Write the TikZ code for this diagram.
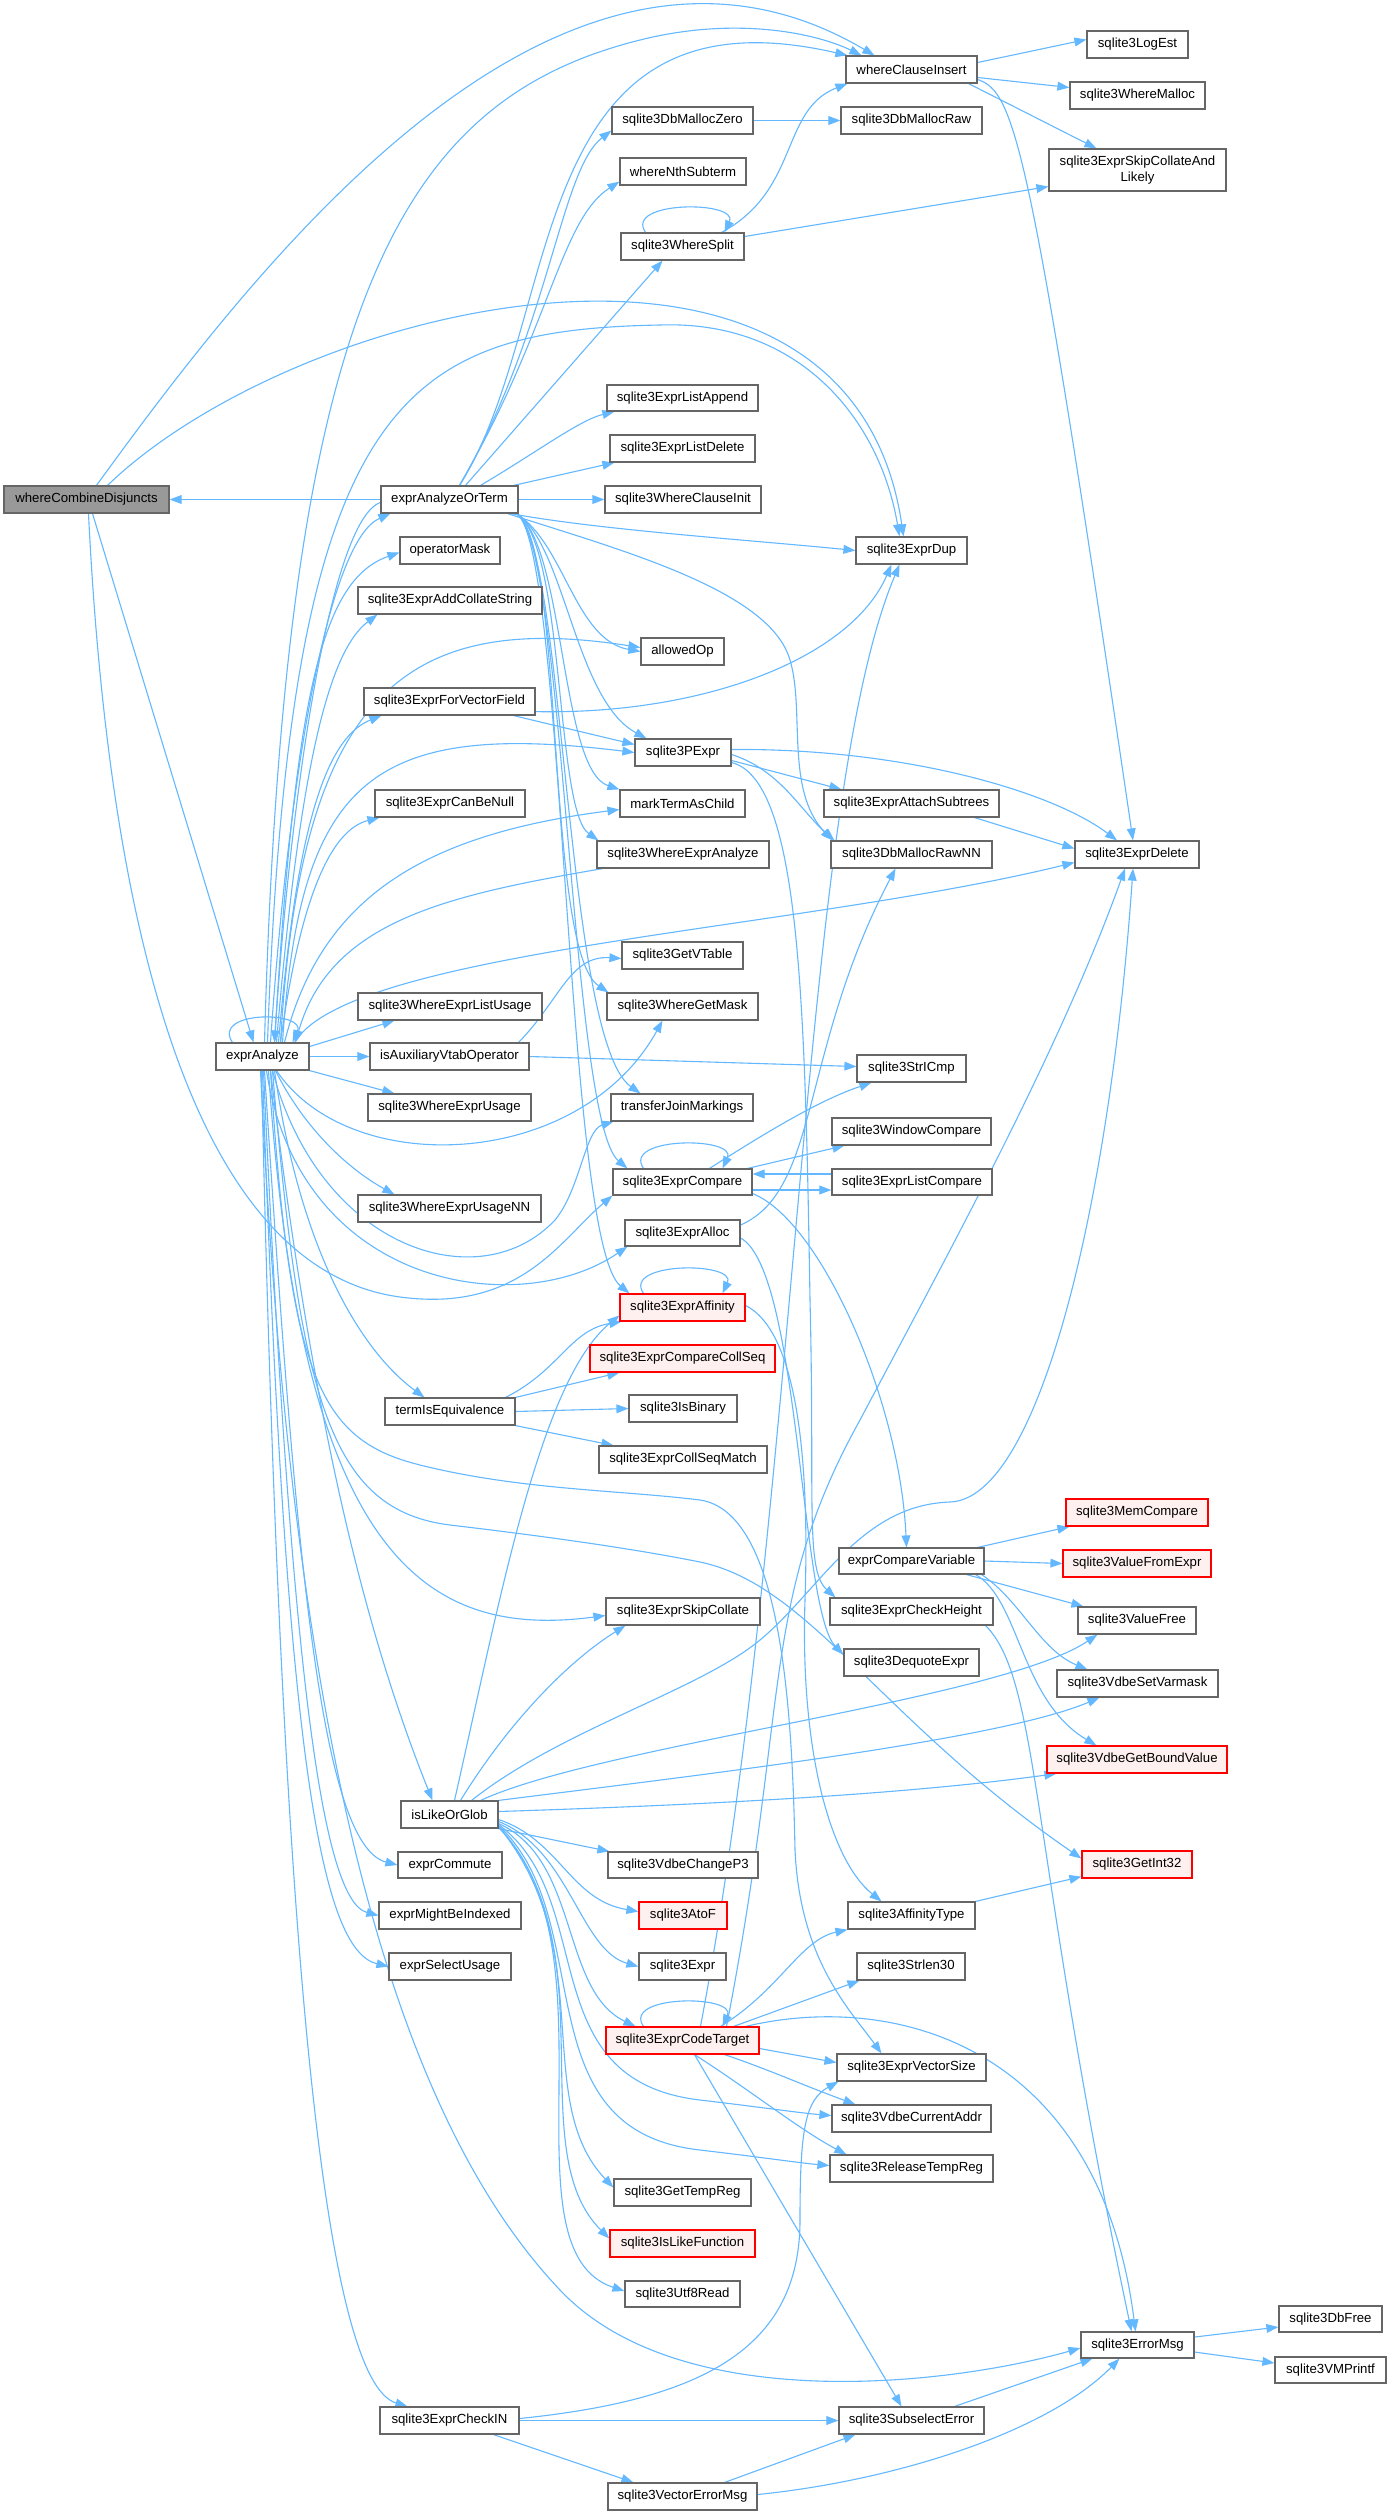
\documentclass[tikz,border=0pt]{standalone}
\usepackage{fontspec}
\setmainfont{Liberation Sans}
\usetikzlibrary{arrows.meta,calc}
\definecolor{edgec}{HTML}{63B8FF}
\definecolor{bord}{HTML}{666666}
\definecolor{focf}{HTML}{999999}
\definecolor{redf}{HTML}{FFF0F0}
\tikzset{
 bxn/.style={draw=bord, fill=white, line width=0.6pt, inner sep=0pt, font=\fontsize{6.6pt}{8pt}\selectfont, align=center},
 bxr/.style={bxn, draw=red, fill=redf},
 bxf/.style={bxn, fill=focf},
 edg/.style={draw=edgec, line width=0.55pt, -{Triangle[length=6pt,width=4.4pt]}},
}
\newcommand{\bx}[7]{\node[#1,minimum width={(#5-#3)*0.5pt},minimum height={(#6-#4)*0.5pt}] (#2) at ({(#3+#5)/2},{(#4+#6)/2}) {#7};}
\newcommand{\sloop}[3]{\draw[edg] ($(#1.north)+(#2,0)$) .. controls ($(#1.north)+(#2-22,-32)$) and ($(#1.north)+(#3+15,-32)$) .. ($(#1.north)+(#3,0)$);}
\pgfdeclarelayer{bgw}
\pgfdeclarelayer{bg}
\pgfsetlayers{bgw,bg,main}
\begin{document}
\begin{tikzpicture}[x=0.5pt,y=-0.5pt]
\begin{pgfonlayer}{bgw}
\fill[white] (0,0) rectangle (1391,2516);
\end{pgfonlayer}
\useasboundingbox (0,0) rectangle (1391,2516);
% ---------- nodes ----------
\bx{bxf}{wcd}{4}{486}{169}{513}{whereCombineDisjuncts}
\bx{bxn}{eaot}{381}{486}{518}{513}{exprAnalyzeOrTerm}
\bx{bxn}{ea}{216}{1043}{309}{1070}{exprAnalyze}
\bx{bxn}{opm}{400}{537}{500}{564}{operatorMask}
\bx{bxn}{acs}{358}{587}{542}{614}{sqlite3ExprAddCollateString}
\bx{bxn}{fvf}{364}{688}{535}{715}{sqlite3ExprForVectorField}
\bx{bxn}{cbn}{375}{790}{525}{817}{sqlite3ExprCanBeNull}
\bx{bxn}{elu}{358}{993}{542}{1020}{sqlite3WhereExprListUsage}
\bx{bxn}{iav}{370}{1043}{529}{1070}{isAuxiliaryVtabOperator}
\bx{bxn}{weu}{368}{1094}{531}{1121}{sqlite3WhereExprUsage}
\bx{bxn}{wnn}{358}{1195}{541}{1222}{sqlite3WhereExprUsageNN}
\bx{bxn}{tie}{385}{1398}{515}{1425}{termIsEquivalence}
\bx{bxn}{llg}{401}{1801}{498}{1828}{isLikeOrGlob}
\bx{bxn}{ecm}{398}{1852}{502}{1878}{exprCommute}
\bx{bxn}{mbi}{379}{1902}{521}{1929}{exprMightBeIndexed}
\bx{bxn}{esu}{389}{1953}{511}{1980}{exprSelectUsage}
\bx{bxn}{cin}{380}{2407}{519}{2434}{sqlite3ExprCheckIN}
\bx{bxn}{dmz}{612}{107}{753}{134}{sqlite3DbMallocZero}
\bx{bxn}{nth}{620}{158}{746}{185}{whereNthSubterm}
\bx{bxn}{wsp}{621}{233}{744}{260}{sqlite3WhereSplit}
\bx{bxn}{lap}{607}{385}{758}{411}{sqlite3ExprListAppend}
\bx{bxn}{lde}{610}{435}{755}{462}{sqlite3ExprListDelete}
\bx{bxn}{wci}{605}{486}{761}{513}{sqlite3WhereClauseInit}
\bx{bxn}{aop}{641}{638}{724}{665}{allowedOp}
\bx{bxn}{pex}{635}{739}{731}{766}{sqlite3PExpr}
\bx{bxn}{mtc}{620}{790}{745}{817}{markTermAsChild}
\bx{bxn}{wea}{597}{841}{769}{868}{sqlite3WhereExprAnalyze}
\bx{bxn}{gvt}{622}{942}{743}{969}{sqlite3GetVTable}
\bx{bxn}{gmk}{607}{993}{758}{1020}{sqlite3WhereGetMask}
\bx{bxn}{tjm}{611}{1094}{753}{1121}{transferJoinMarkings}
\bx{bxn}{ecp}{613}{1169}{752}{1195}{sqlite3ExprCompare}
\bx{bxn}{eal}{625}{1220}{740}{1246}{sqlite3ExprAlloc}
\bx{bxr}{eaf}{620}{1294}{745}{1321}{sqlite3ExprAffinity}
\bx{bxr}{ccs}{590}{1345}{775}{1372}{sqlite3ExprCompareCollSeq}
\bx{bxn}{isb}{629}{1395}{737}{1422}{sqlite3IsBinary}
\bx{bxn}{csm}{599}{1446}{767}{1473}{sqlite3ExprCollSeqMatch}
\bx{bxn}{esc}{606}{1598}{760}{1625}{sqlite3ExprSkipCollate}
\bx{bxn}{cp3}{608}{1852}{758}{1878}{sqlite3VdbeChangeP3}
\bx{bxr}{atf}{639}{1902}{727}{1929}{sqlite3AtoF}
\bx{bxn}{exr}{639}{1953}{726}{1980}{sqlite3Expr}
\bx{bxr}{ect}{606}{2027}{759}{2054}{sqlite3ExprCodeTarget}
\bx{bxn}{gtr}{614}{2179}{751}{2206}{sqlite3GetTempReg}
\bx{bxr}{ilf}{610}{2230}{755}{2257}{sqlite3IsLikeFunction}
\bx{bxn}{u8r}{625}{2281}{740}{2307}{sqlite3Utf8Read}
\bx{bxn}{vem}{608}{2483}{757}{2510}{sqlite3VectorErrorMsg}
\bx{bxn}{wins}{846}{56}{977}{83}{whereClauseInsert}
\bx{bxn}{dmr}{841}{107}{982}{134}{sqlite3DbMallocRaw}
\bx{bxn}{dup}{856}{537}{967}{564}{sqlite3ExprDup}
\bx{bxn}{ats}{824}{790}{999}{817}{sqlite3ExprAttachSubtrees}
\bx{bxn}{rnn}{831}{841}{992}{868}{sqlite3DbMallocRawNN}
\bx{bxn}{sic}{857}{1055}{966}{1082}{sqlite3StrICmp}
\bx{bxn}{wcm}{832}{1118}{991}{1145}{sqlite3WindowCompare}
\bx{bxn}{lcm}{832}{1169}{992}{1195}{sqlite3ExprListCompare}
\bx{bxn}{ecv}{839}{1548}{984}{1574}{exprCompareVariable}
\bx{bxn}{ech}{830}{1598}{993}{1625}{sqlite3ExprCheckHeight}
\bx{bxn}{deq}{844}{1649}{979}{1676}{sqlite3DequoteExpr}
\bx{bxn}{aft}{848}{1902}{975}{1929}{sqlite3AffinityType}
\bx{bxn}{s30}{857}{1953}{965}{1980}{sqlite3Strlen30}
\bx{bxn}{evs}{837}{2054}{986}{2081}{sqlite3ExprVectorSize}
\bx{bxn}{vca}{832}{2105}{991}{2132}{sqlite3VdbeCurrentAddr}
\bx{bxn}{rtr}{830}{2155}{993}{2182}{sqlite3ReleaseTempReg}
\bx{bxn}{sse}{839}{2407}{984}{2434}{sqlite3SubselectError}
\bx{bxn}{lgst}{1087}{31}{1188}{58}{sqlite3LogEst}
\bx{bxn}{wml}{1070}{82}{1205}{109}{sqlite3WhereMalloc}
\bx{bxn}{scl}{1049}{149}{1226}{191}{sqlite3ExprSkipCollateAnd\\Likely}
\bx{bxn}{del}{1075}{841}{1199}{868}{sqlite3ExprDelete}
\bx{bxr}{mcp}{1066}{1499}{1208}{1526}{sqlite3MemCompare}
\bx{bxr}{vfe}{1063}{1550}{1211}{1577}{sqlite3ValueFromExpr}
\bx{bxn}{vfr}{1078}{1607}{1196}{1634}{sqlite3ValueFree}
\bx{bxn}{svm}{1057}{1670}{1218}{1697}{sqlite3VdbeSetVarmask}
\bx{bxr}{gbv}{1047}{1746}{1227}{1773}{sqlite3VdbeGetBoundValue}
\bx{bxr}{gi32}{1082}{1851}{1192}{1878}{sqlite3GetInt32}
\bx{bxn}{erm}{1081}{2332}{1194}{2358}{sqlite3ErrorMsg}
\bx{bxn}{dbf}{1279}{2306}{1382}{2332}{sqlite3DbFree}
\bx{bxn}{vmp}{1275}{2357}{1386}{2383}{sqlite3VMPrintf}
% ---------- edges ----------
\begin{pgfonlayer}{bg}
% whereCombineDisjuncts
\draw[edg] (eaot.west) -- (wcd.east);
\draw[edg] ($(wcd.north)+(10,0)$) .. controls (260,260) and (560,-130) .. ($(wins.north west)+(29,0)$);
\draw[edg] ($(wcd.north)+(21,0)$) .. controls (300,300) and (850,170) .. ($(dup.north)+(-8,0)$);
\draw[edg] ($(wcd.south)+(6,0)$) -- ($(ea.north)+(-9,0)$);
\draw[edg] ($(wcd.south)+(2,0)$) .. controls (110,950) and (200,1270) .. (400,1297) .. controls (520,1313) and (560,1240) .. (ecp.south west);
% exprAnalyzeOrTerm
\draw[edg] ($(eaot.north)+(10,0)$) .. controls (565,320) and (520,-20) .. ($(wins.north west)+(2,0)$);
\draw[edg] ($(eaot.north)+(10,0)$) .. controls (550,330) and (560,170) .. ($(dmz.south west)+(0,-4)$);
\draw[edg] ($(eaot.north)+(10,0)$) .. controls (550,330) and (560,220) .. ($(nth.south west)+(0,-4)$);
\draw[edg] ($(eaot.north)+(16,0)$) -- ($(wsp.south)+(-20,0)$);
\draw[edg] ($(eaot.north east)+(-38,0)$) .. controls (540,450) and (580,420) .. ($(lap.south west)+(8,0)$);
\draw[edg] ($(eaot.north east)+(-5,0)$) -- ($(lde.south west)+(5,0)$);
\draw[edg] (eaot.east) -- (wci.west);
\draw[edg] ($(eaot.south east)+(-8,0)$) .. controls (600,530) and (750,540) .. (dup.west);
\draw[edg] ($(eaot.south east)+(-11,0)$) .. controls (620,550) and (770,590) .. (790,660) .. controls (805,710) and (785,790) .. ($(rnn.north west)+(2,0)$);
\draw[edg] ($(eaot.south east)+(-2,0)$) .. controls (565,545) and (575,640) .. (aop.west);
\draw[edg] ($(eaot.south east)+(-2,0)$) .. controls (565,545) and (575,700) .. ($(pex.north west)+(12,0)$);
\draw[edg] ($(eaot.south east)+(-2,0)$) .. controls (565,545) and (560,770) .. (mtc.north west);
\draw[edg] ($(eaot.south east)+(-2,0)$) .. controls (565,545) and (555,810) .. ($(wea.north west)+(2,0)$);
\draw[edg] ($(eaot.south east)+(-2,0)$) .. controls (565,545) and (545,950) .. ($(gmk.north west)+(2,0)$);
\draw[edg] ($(eaot.south east)+(-2,0)$) .. controls (565,545) and (565,1040) .. ($(tjm.north west)+(30,0)$);
\draw[edg] ($(eaot.south east)+(-2,0)$) .. controls (565,545) and (570,1120) .. ($(ecp.north west)+(15,0)$);
\draw[edg] ($(eaot.south east)+(-2,0)$) .. controls (565,545) and (565,1240) .. ($(eaf.north west)+(10,0)$);
\draw[edg] ($(eaot.west)+(0,3)$) .. controls (330,520) and (290,800) .. ($(ea.north)+(12,0)$);
% exprAnalyze
\sloop{ea}{-30}{30}
\draw[edg] ($(ea.north)+(8,0)$) .. controls (290,760) and (330,540) .. ($(eaot.south west)+(10,0)$);
\draw[edg] ($(ea.north)+(2,0)$) .. controls (285,300) and (400,100) .. (640,40) .. controls (740,15) and (820,35) .. ($(wins.north west)+(16,0)$);
\draw[edg] ($(ea.north)+(5,0)$) .. controls (290,400) and (400,330) .. (660,325) .. controls (800,320) and (880,420) .. ($(dup.north)+(-12,0)$);
\draw[edg] ($(ea.north)+(12,0)$) .. controls (295,700) and (320,580) .. ($(opm.west)+(0,2)$);
\draw[edg] ($(ea.north)+(14,0)$) .. controls (300,760) and (330,650) .. ($(acs.south west)+(20,0)$);
\draw[edg] ($(ea.north)+(18,0)$) .. controls (300,700) and (400,610) .. ($(aop.west)+(0,-4)$);
\draw[edg] ($(ea.north)+(16,0)$) .. controls (295,850) and (320,740) .. ($(fvf.south west)+(18,0)$);
\draw[edg] ($(ea.north)+(20,0)$) .. controls (300,780) and (370,720) .. (pex.west);
\draw[edg] ($(ea.north)+(18,0)$) .. controls (300,900) and (330,830) .. ($(cbn.south west)+(5,0)$);
\draw[edg] ($(ea.north)+(22,0)$) .. controls (320,900) and (420,835) .. ($(mtc.west)+(0,6)$);
\draw[edg] ($(wea.south west)+(6,0)$) .. controls (450,895) and (330,920) .. ($(ea.north)+(33,0)$);
\draw[edg] ($(ea.north east)+(-15,0)$) .. controls (350,950) and (800,930) .. ($(del.west)+(0,8)$);
\draw[edg] ($(ea.east)+(0,-10)$) -- ($(elu.south west)+(37,0)$);
\draw[edg] (ea.east) -- (iav.west);
\draw[edg] (ea.south east) -- ($(weu.north west)+(27,0)$);
\draw[edg] ($(ea.south)+(14,0)$) .. controls (350,1180) and (580,1170) .. ($(gmk.south)+(-20,0)$);
\draw[edg] ($(ea.south)+(10,0)$) .. controls (320,1250) and (480,1300) .. (555,1220) .. controls (580,1190) and (585,1130) .. ($(tjm.south west)+(3,0)$);
\draw[edg] ($(ea.south)+(13,0)$) .. controls (305,1130) and (350,1170) .. ($(wnn.north west)+(37,0)$);
\draw[edg] ($(ea.south)+(4,0)$) .. controls (300,1290) and (520,1320) .. ($(eal.south west)+(3,0)$);
\draw[edg] ($(ea.south)+(12,0)$) .. controls (300,1250) and (360,1350) .. ($(tie.north west)+(40,0)$);
\draw[edg] ($(ea.south)+(8,0)$) .. controls (290,1380) and (320,1440) .. (420,1465) .. controls (520,1490) and (620,1490) .. (700,1500) .. controls (780,1512) and (792,1700) .. (795,1850) .. controls (800,1960) and (850,2010) .. ($(evs.north)+(-30,0)$);
\draw[edg] ($(ea.south)+(10,0)$) .. controls (300,1400) and (330,1510) .. (450,1525) .. controls (560,1538) and (640,1550) .. (700,1562) .. controls (810,1585) and (880,1720) .. ($(gi32.west)+(0,-6)$);
\draw[edg] ($(ea.south)+(6,0)$) .. controls (300,1550) and (420,1640) .. ($(esc.west)+(0,4)$);
\draw[edg] ($(ea.south)+(8,0)$) .. controls (310,1400) and (360,1620) .. ($(llg.north)+(-17,0)$);
\draw[edg] ($(ea.south)+(2,0)$) .. controls (295,1550) and (320,1845) .. (ecm.west);
\draw[edg] ($(ea.south)+(1,0)$) .. controls (290,1650) and (320,1900) .. (mbi.west);
\draw[edg] (ea.south) .. controls (285,1750) and (320,1950) .. (esu.west);
\draw[edg] ($(ea.south)+(-1,0)$) .. controls (280,1900) and (320,2380) .. ($(cin.north west)+(28,0)$);
\draw[edg] ($(ea.south)+(-2,0)$) .. controls (290,1700) and (380,2100) .. (560,2290) .. controls (680,2417) and (950,2385) .. ($(erm.west)+(0,3)$);
% second tier
\draw[edg] ($(fvf.south east)+(0,-4)$) .. controls (700,715) and (850,660) .. ($(dup.south)+(-20,0)$);
\draw[edg] ($(fvf.south east)+(-22,0)$) -- ($(pex.west)+(0,-8)$);
\draw[edg] ($(pex.east)+(0,-3)$) .. controls (900,748) and (1050,790) .. ($(del.north)+(-20,0)$);
\draw[edg] ($(pex.east)+(0,8)$) -- ($(ats.north west)+(18,0)$);
\draw[edg] ($(pex.east)+(0,2)$) .. controls (780,770) and (800,810) .. ($(rnn.north west)+(4,0)$);
\draw[edg] ($(pex.east)+(0,10)$) .. controls (800,780) and (805,1000) .. (810,1300) .. controls (815,1500) and (805,1570) .. ($(ech.north west)+(6,0)$);
\draw[edg] ($(iav.north east)+(-11,0)$) .. controls (560,1000) and (570,955) .. ($(gvt.west)+(0,3)$);
\draw[edg] (iav.east) -- ($(sic.west)+(0,-2)$);
\draw[edg] (dmz.east) -- (dmr.west);
\sloop{wsp}{-37}{42}
\draw[edg] ($(wsp.north east)+(-23,0)$) .. controls (800,190) and (780,110) .. ($(wins.south west)+(2,0)$);
\draw[edg] ($(wsp.east)+(0,-10)$) -- ($(scl.south west)+(0,-5)$);
\draw[edg] ($(wins.east)+(0,-7)$) -- ($(lgst.west)+(0,-5)$);
\draw[edg] ($(wins.east)+(0,8)$) -- ($(wml.west)+(0,-8)$);
\draw[edg] ($(wins.south east)+(-9,0)$) -- ($(scl.north west)+(48,0)$);
\draw[edg] ($(wins.east)+(0,10)$) .. controls (1015,92) and (1030,140) .. ($(del.north)+(-4,0)$);
\draw[edg] ($(ats.south east)+(-25,0)$) -- ($(del.west)+(0,-6)$);
\sloop{ecp}{-39}{40}
\draw[edg] ($(ecp.north)+(27,0)$) .. controls (770,1130) and (820,1100) .. ($(sic.south west)+(15,0)$);
\draw[edg] ($(ecp.north east)+(-5,0)$) -- ($(wcm.south west)+(13,0)$);
\draw[edg] ($(ecp.east)+(0,8)$) -- ($(lcm.west)+(0,8)$);
\draw[edg] ($(lcm.west)+(0,-8)$) -- ($(ecp.east)+(0,-8)$);
\draw[edg] ($(ecp.south east)+(0,-2)$) .. controls (820,1220) and (900,1400) .. ($(ecv.north)+(-5,0)$);
\draw[edg] ($(eal.east)+(0,-8)$) .. controls (820,1190) and (800,1050) .. ($(rnn.south)+(-16,0)$);
\draw[edg] ($(eal.east)+(0,5)$) .. controls (800,1270) and (800,1610) .. ($(deq.west)+(0,-8)$);
\sloop{eaf}{-39}{40}
\draw[edg] ($(eaf.east)+(0,-2)$) .. controls (795,1330) and (810,1450) .. (805,1600) .. controls (800,1750) and (830,1860) .. ($(aft.north)+(-30,0)$);
\draw[edg] ($(tie.north east)+(-10,0)$) .. controls (560,1370) and (570,1330) .. ($(eaf.south west)+(2,0)$);
\draw[edg] (tie.north east) -- ($(ccs.south west)+(30,0)$);
\draw[edg] (tie.east) -- (isb.west);
\draw[edg] (tie.south east) -- ($(csm.north west)+(15,0)$);
% isLikeOrGlob
\draw[edg] ($(llg.north)+(5,0)$) .. controls (500,1600) and (540,1380) .. ($(eaf.west)+(0,8)$);
\draw[edg] ($(llg.north)+(11,0)$) .. controls (510,1720) and (570,1660) .. ($(esc.south west)+(20,0)$);
\draw[edg] ($(llg.north east)+(-27,0)$) .. controls (560,1730) and (700,1690) .. (760,1640) .. controls (820,1590) and (860,1505) .. (950,1502) .. controls (1040,1499) and (1110,1200) .. ($(del.south)+(-4,0)$);
\draw[edg] ($(llg.north east)+(-18,0)$) .. controls (600,1745) and (1000,1700) .. ($(vfr.south west)+(20,0)$);
\draw[edg] (llg.north east) .. controls (700,1775) and (1000,1740) .. ($(svm.south west)+(43,0)$);
\draw[edg] ($(llg.east)+(0,-3)$) .. controls (700,1805) and (900,1795) .. ($(gbv.south west)+(10,0)$);
\draw[edg] (llg.south east) -- ($(cp3.north west)+(2,0)$);
\draw[edg] ($(llg.east)+(0,5)$) .. controls (560,1840) and (570,1900) .. ($(atf.west)+(0,-4)$);
\draw[edg] ($(llg.east)+(0,7)$) .. controls (570,1850) and (580,1950) .. (exr.west);
\draw[edg] ($(llg.east)+(0,9)$) .. controls (580,1860) and (560,1990) .. ($(ect.north west)+(30,0)$);
\draw[edg] ($(llg.east)+(0,10)$) .. controls (600,1900) and (530,2080) .. (700,2100) .. controls (760,2107) and (800,2113) .. ($(vca.west)+(0,-3)$);
\draw[edg] ($(llg.east)+(0,11)$) .. controls (600,1920) and (520,2130) .. (700,2150) .. controls (760,2157) and (800,2163) .. ($(rtr.west)+(0,-3)$);
\draw[edg] ($(llg.east)+(0,12)$) .. controls (600,1950) and (530,2100) .. ($(gtr.west)+(0,-5)$);
\draw[edg] ($(llg.east)+(0,12)$) .. controls (610,1950) and (520,2150) .. ($(ilf.west)+(0,-5)$);
\draw[edg] ($(llg.east)+(0,13)$) .. controls (620,1950) and (500,2250) .. ($(u8r.west)+(0,-3)$);
% sqlite3ExprCodeTarget
\sloop{ect}{-39}{40}
\draw[edg] ($(ect.north east)+(-39,0)$) .. controls (780,1990) and (800,1940) .. (aft.south west);
\draw[edg] ($(ect.north east)+(-26,0)$) -- ($(s30.south west)+(3,0)$);
\draw[edg] ($(ect.east)+(0,8)$) -- ($(evs.west)+(0,-5)$);
\draw[edg] ($(ect.south east)+(-35,0)$) .. controls (770,2070) and (800,2084) .. ($(vca.north west)+(24,0)$);
\draw[edg] ($(ect.south)+(12,0)$) .. controls (750,2090) and (800,2130) .. ($(rtr.north west)+(17,0)$);
\draw[edg] ($(ect.south)+(12,0)$) -- ($(sse.north)+(-10,0)$);
\draw[edg] ($(ect.north east)+(-14,0)$) .. controls (900,1990) and (1100,2050) .. ($(erm.north)+(-2,0)$);
\draw[edg] ($(ect.north)+(18,0)$) .. controls (800,1500) and (800,800) .. ($(dup.south)+(-12,0)$);
\draw[edg] ($(ect.north)+(44,0)$) .. controls (790,1700) and (760,1600) .. (860,1420) .. controls (950,1250) and (1060,1050) .. ($(del.south)+(-12,0)$);
% exprCompareVariable and others
\draw[edg] ($(ecv.north east)+(-7,0)$) -- ($(mcp.south west)+(4,0)$);
\draw[edg] (ecv.east) -- (vfe.west);
\draw[edg] ($(ecv.south east)+(-18,0)$) -- ($(vfr.north west)+(6,0)$);
\draw[edg] ($(ecv.south east)+(-3,0)$) .. controls (1020,1600) and (1040,1650) .. ($(svm.north west)+(31,0)$);
\draw[edg] ($(ecv.south east)+(-9,0)$) .. controls (1020,1600) and (1020,1700) .. ($(gbv.north west)+(50,0)$);
\draw[edg] ($(ech.south east)+(-8,0)$) .. controls (1040,1680) and (1030,1850) .. ($(erm.north)+(-6,0)$);
\draw[edg] (aft.north east) -- ($(gi32.south west)+(0,-2)$);
\draw[edg] ($(cin.east)+(0,-2)$) .. controls (700,2400) and (800,2350) .. (800,2220) .. controls (800,2130) and (805,2100) .. ($(evs.south west)+(2,0)$);
\draw[edg] (cin.east) -- (sse.west);
\draw[edg] ($(cin.south east)+(-26,0)$) -- ($(vem.north west)+(26,0)$);
\draw[edg] ($(vem.north east)+(-33,0)$) -- ($(sse.south west)+(17,0)$);
\draw[edg] ($(vem.east)+(0,-2)$) .. controls (900,2480) and (1050,2430) .. ($(erm.south west)+(39,0)$);
\draw[edg] ($(sse.north east)+(-30,0)$) -- ($(erm.south west)+(12,0)$);
\draw[edg] ($(erm.east)+(0,-8)$) -- ($(dbf.west)+(0,8)$);
\draw[edg] ($(erm.east)+(0,7)$) -- ($(vmp.west)+(0,-7)$);
\end{pgfonlayer}
\end{tikzpicture}
\end{document}
